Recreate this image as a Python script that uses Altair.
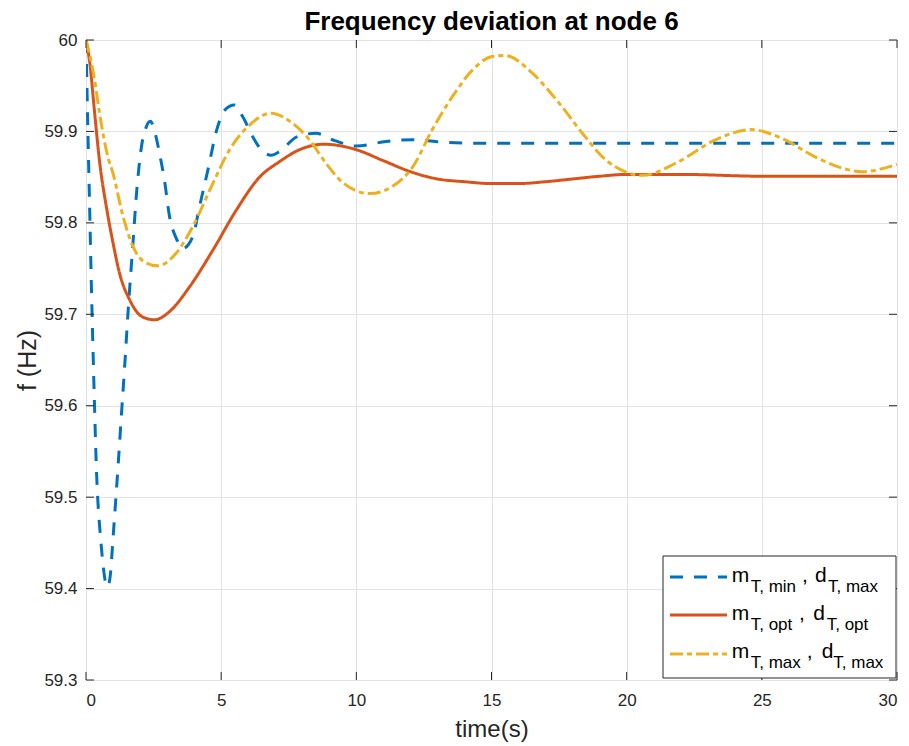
import altair as alt
import pandas as pd

# ---------------- data ----------------
blue_t = [0, 0.07, 0.14, 0.2, 0.26, 0.32, 0.38, 0.44, 0.51, 0.6, 0.69, 0.8, 0.9, 1.0,
          1.1, 1.2, 1.31, 1.43, 1.55, 1.75, 1.86, 2.05, 2.23, 2.38, 2.54, 2.72,
          2.9, 3.09, 3.34, 3.58, 3.95, 4.2, 4.51, 4.82, 5.12, 5.49, 5.8, 6.17, 6.48, 6.85,
          7.16, 7.8, 8.5, 9.2, 10.0, 11.1, 12.1, 13.3, 15, 20, 25, 30]
blue_f = [60.0, 59.90, 59.81, 59.73, 59.66, 59.595, 59.535, 59.495, 59.466, 59.435, 59.412,
          59.402, 59.415, 59.455, 59.497, 59.54, 59.59, 59.643, 59.70, 59.783,
          59.829, 59.883, 59.905, 59.911, 59.90, 59.876, 59.847, 59.807, 59.783, 59.772, 59.785,
          59.818, 59.858, 59.90, 59.923, 59.929, 59.916, 59.894, 59.880, 59.874, 59.878, 59.894,
          59.898, 59.890, 59.884, 59.889, 59.891, 59.888, 59.887, 59.887, 59.887, 59.887]

orange_t = [0, 0.14, 0.32, 0.51, 0.75, 1.0, 1.24, 1.61, 2.1, 2.54, 3.09, 3.83, 4.69, 5.56,
            6.42, 7.16, 7.9, 8.8, 10, 11, 12, 13, 14, 15, 16, 17, 18, 19, 20, 22, 25, 30]
orange_f = [60.0, 59.975, 59.92, 59.865, 59.818, 59.778, 59.745, 59.716, 59.697, 59.694,
            59.703, 59.730, 59.770, 59.814, 59.850, 59.867, 59.880, 59.886, 59.880, 59.868,
            59.856, 59.848, 59.845, 59.843, 59.843, 59.845, 59.848, 59.851, 59.853, 59.853,
            59.851, 59.851]

yellow_t = [0, 0.32, 0.5, 0.81, 1.0, 1.37, 1.74, 2.23, 2.65, 3.34, 3.95, 4.69, 5.31, 6.05,
            6.85, 7.5, 8.26, 8.88, 9.5, 10.5, 11.34, 12.08, 12.81, 13.55, 14.29, 15.03, 15.5,
            16.5, 17.5, 18.36, 19.22, 20.6, 21.8, 23.3, 24.6, 25.7, 26.98, 27.96, 28.7, 30]
yellow_f = [60.0, 59.956, 59.92, 59.872, 59.854, 59.807, 59.774, 59.756, 59.753, 59.767,
            59.796, 59.843, 59.880, 59.907, 59.920, 59.912, 59.891, 59.865, 59.844, 59.832,
            59.840, 59.861, 59.902, 59.938, 59.967, 59.982, 59.983, 59.964, 59.931, 59.898,
            59.869, 59.852, 59.865, 59.891, 59.902, 59.893, 59.872, 59.860, 59.856, 59.864]

x_ticks = [0, 5, 10, 15, 20, 25, 30]
y_ticks = [59.3, 59.4, 59.5, 59.6, 59.7, 59.8, 59.9, 60.0]

title_text = "Frequency deviation at node 6"
x_title = "time(s)"
y_title = "f (Hz)"

# legend texts: (main1, sub1, main2, sub2)
legend_rows = [
    ("m", "T, min", "d", "T, max"),
    ("m", "T, opt", "d", "T, opt"),
    ("m", "T, max", "d", "T, max"),
]

# ---------------- styles / layout ----------------
FONT = "Liberation Sans, Arial, Helvetica, sans-serif"
TXT = "#262626"
W, H = 811, 640
colors = ["#0072BD", "#D95319", "#EDB120"]
dashes = [[13, 11], [1, 0], [13, 4, 5, 4]]

xs = alt.Scale(domain=[0, 30], nice=False)
ys = alt.Scale(domain=[59.3, 60.0], nice=False, zero=False)

x_axis = alt.Axis(values=x_ticks, grid=True, gridColor="#e2e2e2", domain=False, ticks=False,
                  labelFontSize=17, labelColor=TXT, labelPadding=12, labelFont=FONT,
                  titleFontSize=24, titleColor=TXT, titleFont=FONT, titleFontWeight="normal",
                  titlePadding=9)
y_axis = alt.Axis(values=y_ticks, grid=True, gridColor="#e2e2e2", domain=False, ticks=False,
                  format=".1~f", labelFontSize=17, labelColor=TXT, labelPadding=9, labelFont=FONT,
                  titleFontSize=25, titleColor=TXT, titleFont=FONT, titleFontWeight="normal",
                  titlePadding=3)

# base (grid + axes)
grid_df = pd.DataFrame({"t": [0, 30], "f": [59.3, 60.0]})
base = alt.Chart(grid_df).mark_point(opacity=0).encode(
    x=alt.X("t:Q", scale=xs, axis=x_axis, title=x_title),
    y=alt.Y("f:Q", scale=ys, axis=y_axis, title=y_title),
)

series = [(blue_t, blue_f), (orange_t, orange_f), (yellow_t, yellow_f)]
line_layers = []
for (tt, ff), c, d in zip(series, colors, dashes):
    df = pd.DataFrame({"t": tt, "f": ff})
    line_layers.append(
        alt.Chart(df).mark_line(color=c, strokeWidth=3, strokeDash=d, interpolate="monotone",
                                clip=True)
        .encode(x=alt.X("t:Q", scale=xs), y=alt.Y("f:Q", scale=ys))
    )

# inward ticks on all four sides
xt_df = pd.DataFrame({"t": x_ticks})
yt_df = pd.DataFrame({"f": y_ticks})
TL = 8
tick_layers = [
    alt.Chart(xt_df).mark_rule(color=TXT, strokeWidth=1).encode(
        x=alt.X("t:Q", scale=xs), y=alt.value(H), y2=alt.value(H - TL)),
    alt.Chart(xt_df).mark_rule(color=TXT, strokeWidth=1).encode(
        x=alt.X("t:Q", scale=xs), y=alt.value(0), y2=alt.value(TL)),
    alt.Chart(yt_df).mark_rule(color=TXT, strokeWidth=1).encode(
        y=alt.Y("f:Q", scale=ys), x=alt.value(0), x2=alt.value(TL)),
    alt.Chart(yt_df).mark_rule(color=TXT, strokeWidth=1).encode(
        y=alt.Y("f:Q", scale=ys), x=alt.value(W), x2=alt.value(W - TL)),
]

# legend
one = pd.DataFrame({"a": [0]})
leg_layers = [
    alt.Chart(one).mark_rect(fill="white", stroke=TXT, strokeWidth=1).encode(
        x=alt.value(577), x2=alt.value(810), y=alt.value(516), y2=alt.value(638))
]
row_y = [542, 580, 618]
sample_y = [537, 575, 614]
m_x = 645.7
sub1_x = 664.7
comma_x = [716, 713, 720.7]
d_x = [729, 727.3, 735.7]
sub2_x = [742, 740.7, 747.3]
for i, (m1, s1, m2, s2) in enumerate(legend_rows):
    leg_layers.append(
        alt.Chart(one).mark_rule(color=colors[i], strokeWidth=3, strokeDash=dashes[i]).encode(
            x=alt.value(584), x2=alt.value(641), y=alt.value(sample_y[i])))
    pieces = [
        (m1, m_x, row_y[i], 21),
        (s1, sub1_x, row_y[i] + 10, 17),
        (",", comma_x[i], row_y[i], 21),
        (m2, d_x[i], row_y[i], 21),
        (s2, sub2_x[i], row_y[i] + 10, 17),
    ]
    for txt, px, py, fs in pieces:
        leg_layers.append(
            alt.Chart(one).mark_text(align="left", baseline="alphabetic", font=FONT,
                                     fontSize=fs, color="#000000").encode(
                x=alt.value(px), y=alt.value(py), text=alt.value(txt)))

chart = alt.layer(base, *line_layers, *tick_layers, *leg_layers).properties(
    width=W, height=H,
    title=alt.TitleParams(title_text, font=FONT, fontSize=26, fontWeight="bold",
                          color="#000000", anchor="middle", offset=-4),
    autosize=alt.AutoSizeParams(type="none"),
    padding={"left": 86, "top": 40, "right": 12, "bottom": 66},
).configure_view(stroke=TXT, strokeWidth=1).configure(background="white")

chart.save("out.html", embed_options={"renderer": "svg", "actions": False})
